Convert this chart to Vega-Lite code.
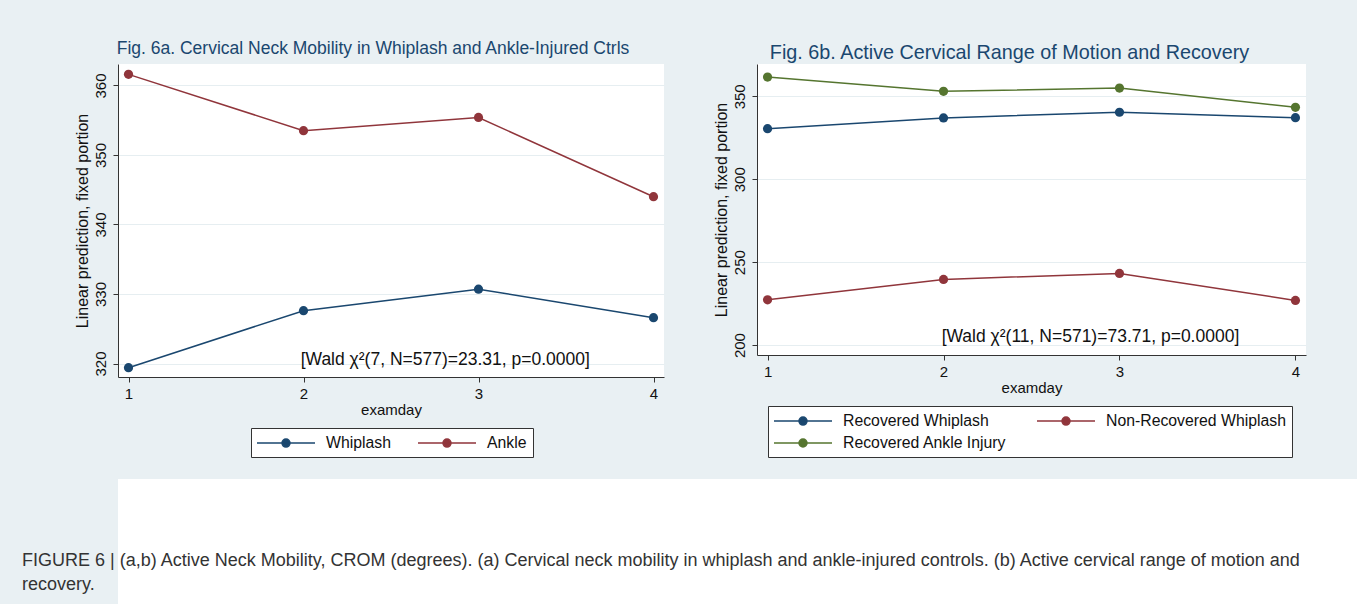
{
  "$schema": "https://vega.github.io/schema/vega-lite/v6.json",
  "background": "#E9F0F3",
  "padding": {"left": 22, "top": 39, "right": 0, "bottom": 0},
  "config": {
    "font": "Liberation Sans",
    "view": {"fill": "white", "stroke": null},
    "axis": {
      "domainColor": "#333333",
      "tickColor": "#333333",
      "labelColor": "#111111",
      "titleColor": "#111111",
      "labelFontSize": 15,
      "titleFontSize": 15,
      "titleFontWeight": "normal",
      "labelFont": "Liberation Sans",
      "titleFont": "Liberation Sans",
      "gridColor": "#E6EEF1",
      "tickSize": 5
    },
    "legend": {
      "direction": "horizontal",
      "fillColor": "white",
      "strokeColor": "#333333",
      "padding": 6,
      "labelFontSize": 15.8,
      "labelColor": "#111111",
      "labelFont": "Liberation Sans",
      "labelLimit": 400,
      "labelOffset": 51,
      "symbolType": "M-1.125,0L6.125,0M3,0A0.5,0.5,0,1,1,2,0A0.5,0.5,0,1,1,3,0Z",
      "symbolSize": 256,
      "symbolStrokeWidth": 1.5,
      "rowPadding": 5,
      "columnPadding": 24
    },
    "title": {"font": "Liberation Sans", "fontWeight": "normal", "color": "#1a476f"}
  },
  "spacing": 21,
  "vconcat": [
    {
      "spacing": 49,
      "resolve": {"scale": {"color": "independent"}, "legend": {"color": "independent"}},
      "hconcat": [
        {
          "width": 546,
          "height": 313,
          "title": {"text": "Fig. 6a. Cervical Neck Mobility in Whiplash and Ankle-Injured Ctrls", "fontSize": 17.5, "frame": "bounds", "anchor": "middle", "offset": 7, "dx": 4},
          "data": {"values": [
            {"examday": 1, "groupA": "Whiplash", "value": 319.4},
            {"examday": 2, "groupA": "Whiplash", "value": 327.6},
            {"examday": 3, "groupA": "Whiplash", "value": 330.7},
            {"examday": 4, "groupA": "Whiplash", "value": 326.6},
            {"examday": 1, "groupA": "Ankle", "value": 361.6},
            {"examday": 2, "groupA": "Ankle", "value": 353.5},
            {"examday": 3, "groupA": "Ankle", "value": 355.4},
            {"examday": 4, "groupA": "Ankle", "value": 344.0}
          ]},
          "encoding": {
            "x": {"field": "examday", "type": "quantitative", "scale": {"domain": [0.94, 4.06], "nice": false, "zero": false},
                  "axis": {"values": [1, 2, 3, 4], "format": "d", "grid": false, "title": "examday", "labelPadding": 4, "titlePadding": 1}},
            "y": {"field": "value", "type": "quantitative", "scale": {"domain": [318.06, 363.09], "nice": false, "zero": false},
                  "axis": {"values": [320, 330, 340, 350, 360], "labelAngle": 270, "labelAlign": "center", "labelBaseline": "bottom", "labelPadding": 5, "title": "Linear prediction, fixed portion", "titleFontSize": 16, "titlePadding": 3, "grid": true}}
          },
          "layer": [
            {"mark": {"type": "line", "strokeWidth": 1.5},
             "encoding": {"color": {"field": "groupA", "type": "nominal", "scale": {"domain": ["Whiplash", "Ankle"], "range": ["#1a476f", "#90353b"]},
               "legend": {"title": null, "orient": "none", "legendX": 133, "legendY": 364,
                 "encode": {"symbols": {"update": {
                   "fill": {"signal": "datum.value === 'Whiplash' ? '#1a476f' : '#90353b'"},
                   "stroke": {"signal": "datum.value === 'Whiplash' ? '#1a476f' : '#90353b'"},
                   "opacity": {"value": 1}}}}}}}},
            {"mark": {"type": "point", "filled": true, "size": 85, "opacity": 1},
             "encoding": {"color": {"field": "groupA", "type": "nominal", "scale": {"domain": ["Whiplash", "Ankle"], "range": ["#1a476f", "#90353b"]}}}},
            {"data": {"values": [{"examday": 2.81, "value": 320.5, "label": "[Wald χ²(7, N=577)=23.31, p=0.0000]"}]},
             "mark": {"type": "text", "fontSize": 17.5, "color": "#111111", "align": "center", "baseline": "middle"},
             "encoding": {"text": {"field": "label"}}}
          ]
        },
        {
          "width": 549,
          "height": 291,
          "title": {"text": "Fig. 6b. Active Cervical Range of Motion and Recovery", "fontSize": 19.8, "frame": "bounds", "anchor": "middle", "offset": 1},
          "data": {"values": [
            {"examday": 1, "groupB": "Recovered Whiplash", "value": 330.5},
            {"examday": 2, "groupB": "Recovered Whiplash", "value": 337.0},
            {"examday": 3, "groupB": "Recovered Whiplash", "value": 340.4},
            {"examday": 4, "groupB": "Recovered Whiplash", "value": 337.1},
            {"examday": 1, "groupB": "Non-Recovered Whiplash", "value": 227.3},
            {"examday": 2, "groupB": "Non-Recovered Whiplash", "value": 239.6},
            {"examday": 3, "groupB": "Non-Recovered Whiplash", "value": 243.2},
            {"examday": 4, "groupB": "Non-Recovered Whiplash", "value": 226.9},
            {"examday": 1, "groupB": "Recovered Ankle Injury", "value": 361.6},
            {"examday": 2, "groupB": "Recovered Ankle Injury", "value": 353.0},
            {"examday": 3, "groupB": "Recovered Ankle Injury", "value": 355.0},
            {"examday": 4, "groupB": "Recovered Ankle Injury", "value": 343.4}
          ]},
          "encoding": {
            "x": {"field": "examday", "type": "quantitative", "scale": {"domain": [0.94, 4.06], "nice": false, "zero": false},
                  "axis": {"values": [1, 2, 3, 4], "format": "d", "grid": false, "title": "examday", "labelPadding": 4, "titlePadding": 1}},
            "y": {"field": "value", "type": "quantitative", "scale": {"domain": [194, 369.5], "nice": false, "zero": false},
                  "axis": {"values": [200, 250, 300, 350], "labelAngle": 270, "labelAlign": "center", "labelBaseline": "bottom", "labelPadding": 5, "title": "Linear prediction, fixed portion", "titleFontSize": 16, "titlePadding": 3, "grid": true}}
          },
          "layer": [
            {"mark": {"type": "line", "strokeWidth": 1.5},
             "encoding": {"color": {"field": "groupB", "type": "nominal", "scale": {"domain": ["Recovered Whiplash", "Non-Recovered Whiplash", "Recovered Ankle Injury"], "range": ["#1a476f", "#90353b", "#55752f"]},
               "legend": {"title": null, "orient": "none", "legendX": 11, "legendY": 342, "columns": 2, "columnPadding": 27,
                 "encode": {"symbols": {"update": {
                   "fill": {"signal": "datum.value === 'Recovered Whiplash' ? '#1a476f' : datum.value === 'Non-Recovered Whiplash' ? '#90353b' : '#55752f'"},
                   "stroke": {"signal": "datum.value === 'Recovered Whiplash' ? '#1a476f' : datum.value === 'Non-Recovered Whiplash' ? '#90353b' : '#55752f'"},
                   "opacity": {"value": 1}}}}}}}},
            {"mark": {"type": "point", "filled": true, "size": 85, "opacity": 1},
             "encoding": {"color": {"field": "groupB", "type": "nominal", "scale": {"domain": ["Recovered Whiplash", "Non-Recovered Whiplash", "Recovered Ankle Injury"], "range": ["#1a476f", "#90353b", "#55752f"]}}}},
            {"data": {"values": [{"examday": 2.835, "value": 204.8, "label": "[Wald χ²(11, N=571)=73.71, p=0.0000]"}]},
             "mark": {"type": "text", "fontSize": 17.5, "color": "#111111", "align": "center", "baseline": "middle"},
             "encoding": {"text": {"field": "label"}}}
          ]
        }
      ]
    },
    {
      "width": 1240,
      "height": 126,
      "view": {"fill": "white", "stroke": null},
      "data": {"values": [{"t": ""}]},
      "mark": {"type": "text"},
      "encoding": {"text": {"field": "t"}},
      "title": {
        "text": ["FIGURE 6 | (a,b) Active Neck Mobility, CROM (degrees). (a) Cervical neck mobility in whiplash and ankle-injured controls. (b) Active cervical range of motion and", "recovery."],
        "orient": "bottom", "anchor": "start", "frame": "group", "offset": -53, "dx": -96,
        "fontSize": 18, "lineHeight": 24, "color": "#333333", "fontWeight": "normal"
      }
    }
  ]
}
